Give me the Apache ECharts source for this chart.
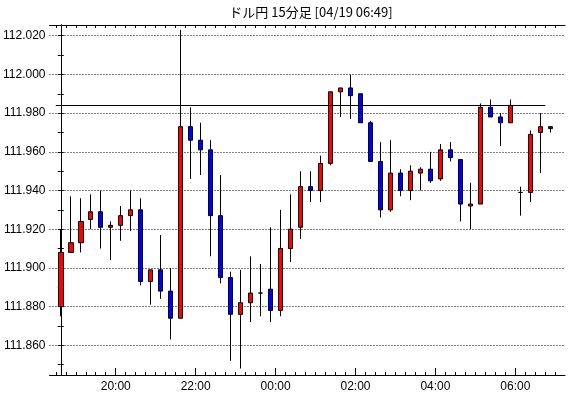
<!DOCTYPE html>
<html>
<head>
<meta charset="utf-8">
<script src="https://cdn.jsdelivr.net/npm/echarts@6/dist/echarts.min.js"></script>
<style>
html,body{margin:0;padding:0;background:#fff;}
#chart{width:570px;height:398px;}
</style>
</head>
<body>
<div id="chart"></div>
<script>
// 15-minute candles, 18:30 .. 06:45
const times = ["18:30","18:45","19:00","19:15","19:30","19:45","20:00","20:15","20:30","20:45",
  "21:00","21:15","21:30","21:45","22:00","22:15","22:30","22:45","23:00","23:15",
  "23:30","23:45","00:00","00:15","00:30","00:45","01:00","01:15","01:30","01:45",
  "02:00","02:15","02:30","02:45","03:00","03:15","03:30","03:45","04:00","04:15",
  "04:30","04:45","05:00","05:15","05:30","05:45","06:00","06:15","06:30","06:45"];
const openV  = [111.880,111.908,111.913,111.925,111.929,111.921,111.922,111.927,111.930,111.893,
  111.899,111.888,111.874,111.973,111.966,111.961,111.927,111.895,111.876,111.882,
  111.887,111.889,111.878,111.910,111.921,111.942,111.940,111.954,111.991,111.993,
  111.990,111.975,111.955,111.930,111.949,111.940,111.949,111.951,111.946,111.961,
  111.956,111.932,111.933,111.983,111.978,111.975,111.939,111.939,111.970,111.973];
const closeV = [111.908,111.913,111.924,111.929,111.921,111.922,111.927,111.930,111.893,111.899,
  111.888,111.874,111.973,111.966,111.961,111.927,111.895,111.876,111.882,111.887,
  111.887,111.878,111.910,111.920,111.942,111.940,111.954,111.991,111.993,111.989,
  111.975,111.955,111.930,111.949,111.940,111.950,111.951,111.945,111.961,111.957,
  111.933,111.933,111.983,111.978,111.975,111.984,111.939,111.969,111.973,111.972];
const lowV   = [111.875,111.908,111.908,111.920,111.910,111.904,111.914,111.919,111.891,111.881,
  111.884,111.863,111.874,111.946,111.948,111.906,111.892,111.852,111.848,111.872,
  111.875,111.872,111.875,111.903,111.915,111.934,111.934,111.953,111.978,111.977,
  111.975,111.955,111.926,111.929,111.937,111.935,111.940,111.944,111.945,111.955,
  111.924,111.920,111.933,111.978,111.963,111.975,111.927,111.934,111.949,111.970];
const highV  = [111.920,111.937,111.936,111.938,111.940,111.924,111.932,111.940,111.936,111.899,
  111.917,111.900,112.023,111.983,111.975,111.966,111.948,111.898,111.899,111.906,
  111.902,111.921,111.930,111.938,111.950,111.950,111.958,111.991,111.993,112.000,
  111.990,111.976,111.965,111.966,111.951,111.953,111.952,111.960,111.964,111.965,
  111.956,111.944,111.985,111.987,111.980,111.987,111.942,111.971,111.980,111.973];
const refLine = 111.984;
const timeLabels = ["20:00","22:00","00:00","02:00","04:00","06:00"];
const yMajor = [111.86,111.88,111.90,111.92,111.94,111.96,111.98,112.00,112.02];
const yMinor = [111.85,111.87,111.89,111.91,111.93,111.95,111.97,111.99,112.01];
const titleText = "ドル円 15分足 [04/19 06:49]";

const candleData = times.map((t, i) => {
  const item = { value: [i, openV[i], closeV[i], lowV[i], highV[i]] };
  if (openV[i] === closeV[i]) item.itemStyle = { color: '#000', borderColor: '#000', borderColor0: '#000' };
  return item;
});
const boundaries = times.map((t, i) => i - 0.5).concat([times.length - 0.5]);
const labelPos = timeLabels.map(l => times.indexOf(l) - 0.5);
const yAll = yMajor.concat(yMinor).sort((a, b) => a - b);

const X_MIN = -1.13, X_MAX = 50.47;
const Y_MIN = 111.84465, Y_MAX = 112.02553;
const font = '"Liberation Sans", Arial, sans-serif';

const chart = echarts.init(document.getElementById('chart'), null, { renderer: 'canvas' });
chart.setOption({
  animation: false,
  backgroundColor: '#fff',
  title: {
    text: titleText, left: 311, top: 6, textAlign: 'center', padding: 0,
    textStyle: { fontSize: 13, fontWeight: 'normal', color: '#000', fontFamily: '"Noto Sans CJK JP", sans-serif' }
  },
  grid: { left: 49, top: 25, width: 516, height: 350, containLabel: false },
  xAxis: [
    { type: 'value', position: 'bottom', min: X_MIN, max: X_MAX,
      axisLine: { show: true, lineStyle: { color: '#000', width: 1 } },
      axisTick: { show: true, inside: true, length: 3, customValues: boundaries, lineStyle: { color: '#000' } },
      axisLabel: { show: false }, splitLine: { show: false } },
    { type: 'value', position: 'bottom', min: X_MIN, max: X_MAX,
      axisLine: { show: false },
      axisTick: { show: true, inside: true, length: 7, customValues: labelPos, lineStyle: { color: '#000' } },
      axisLabel: { show: true, customValues: labelPos, margin: 6, color: '#000', fontSize: 12, fontFamily: font,
        formatter: v => times[Math.round(v + 0.5)] },
      splitLine: { show: false } },
    { type: 'value', position: 'top', min: X_MIN, max: X_MAX,
      axisLine: { show: true, lineStyle: { color: '#000', width: 1 } },
      axisTick: { show: true, inside: true, length: 3, customValues: boundaries, lineStyle: { color: '#000' } },
      axisLabel: { show: false }, splitLine: { show: false } }
  ],
  yAxis: [
    { type: 'value', position: 'left', min: Y_MIN, max: Y_MAX, scale: true,
      axisLine: { show: true, lineStyle: { color: '#000', width: 1 } },
      axisTick: { show: true, inside: true, length: 3, customValues: yMajor, lineStyle: { color: '#000' } },
      axisLabel: { show: true, customValues: yMajor, margin: 4, color: '#000', fontSize: 12, fontFamily: font,
        formatter: v => v.toFixed(3) },
      splitLine: { show: true, lineStyle: { color: '#000', type: [1, 2], width: 1 } } },
    { type: 'value', position: 'left', min: Y_MIN, max: Y_MAX, scale: true,
      axisLine: { show: false },
      axisTick: { show: true, inside: true, length: 3, customValues: yMinor, lineStyle: { color: '#000' } },
      axisLabel: { show: false }, splitLine: { show: false } },
    { type: 'value', position: 'right', min: Y_MIN, max: Y_MAX, scale: true,
      axisLine: { show: true, lineStyle: { color: '#000', width: 1 } },
      axisTick: { show: true, inside: true, length: 3, customValues: yAll, lineStyle: { color: '#000' } },
      axisLabel: { show: false }, splitLine: { show: false } }
  ],
  series: [{
    type: 'candlestick',
    xAxisIndex: 0, yAxisIndex: 0,
    encode: { x: 0, y: [1, 2, 3, 4] },
    barWidth: 5,
    data: candleData,
    itemStyle: {
      color: '#ff0000', color0: '#0000ff',
      borderColor: '#000', borderColor0: '#000', borderColorDoji: '#000', borderWidth: 1
    },
    markLine: {
      silent: true, symbol: 'none', label: { show: false },
      lineStyle: { color: '#000', width: 1, type: 'solid' },
      data: [[ { coord: [-0.5, refLine] }, { coord: [48.5, refLine] } ]]
    }
  }]
});
</script>
</body>
</html>
